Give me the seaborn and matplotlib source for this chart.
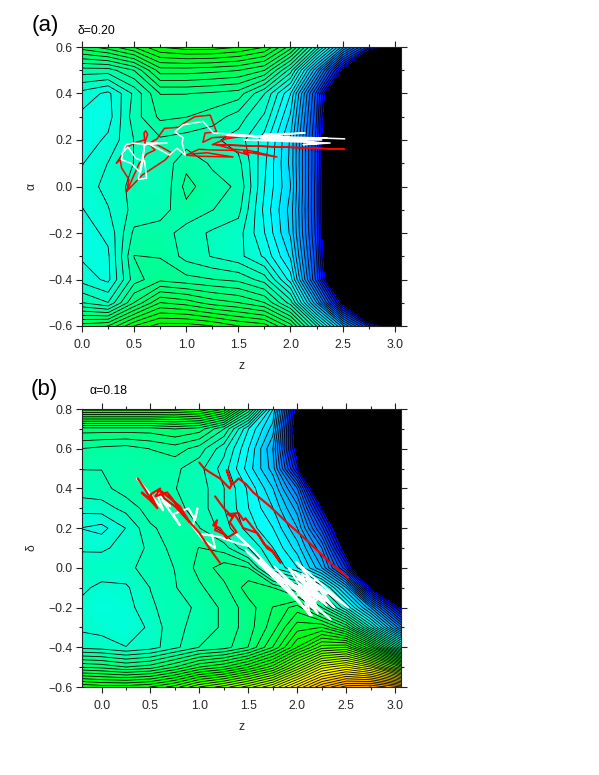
import numpy as np
import matplotlib
matplotlib.use("Agg")
import matplotlib.pyplot as plt
import seaborn as sns
from matplotlib.colors import LinearSegmentedColormap
from matplotlib.ticker import MultipleLocator

# grid of the two maps, energies are given in contour steps
z_a = [0, 0.25, 0.5, 0.75, 1, 1.25, 1.5, 1.75, 2, 2.25, 2.5, 2.75, 3.06]
alpha_a = [0.6, 0.5, 0.4, 0.3, 0.2, 0.1, 0, -0.1, -0.2, -0.3, -0.4, -0.5, -0.6]
energy_a = [
    [-12.5, -13.5, -15, -17, -17.5, -17.5, -17, -16, -12.5, -6, 1.5, 8.5, 15],
    [-7.5, -7.5, -9, -12.5, -12.5, -12.3, -12, -11, -6.5, 2, 12, 28, 45],
    [-4.6, -3.7, -6.2, -9, -9, -8.8, -8.5, -6, -2, 7.5, 20, 45, 60],
    [-3.7, -3.5, -6.5, -8.2, -8, -7.5, -6.5, -4.8, -0.8, 8, 23, 50, 70],
    [-3.3, -4.2, -6, -6.8, -6.5, -6.2, -5.5, -3.5, 0.2, 8.5, 23, 50, 70],
    [-3.9, -5, -6, -6.2, -7.7, -6.8, -6.3, -3.2, 0.3, 8.5, 23, 50, 70],
    [-4.4, -5.3, -6.3, -6, -8.3, -7.4, -6.8, -3, 0, 8.7, 23, 50, 70],
    [-3.9, -4.9, -6.3, -6.5, -7.7, -7, -6.3, -2.7, 0.4, 8.7, 23, 50, 70],
    [-3.5, -4.2, -7.2, -7.5, -6.5, -5.8, -5.4, -3, 0.2, 8.5, 23, 50, 70],
    [-3.8, -3.8, -8, -7.9, -6.6, -5.9, -5.3, -3.8, -0.8, 8, 23, 50, 70],
    [-4.6, -3.7, -7.5, -8.7, -8.3, -8, -7.7, -6.5, -2.5, 7.5, 20, 45, 60],
    [-7, -6, -10, -13, -12.5, -11.5, -11, -10, -6.5, 2, 12.5, 28, 45],
    [-12.5, -13, -16, -17.5, -17.5, -17, -16, -15.5, -12.5, -6, 1.5, 8.5, 15],
]

z_b = [-0.25, 0, 0.25, 0.5, 0.75, 1, 1.25, 1.5, 1.75, 2, 2.25, 2.5, 2.75, 3.06]
delta_b = [0.8, 0.7, 0.6, 0.5, 0.4, 0.3, 0.2, 0.1, 0, -0.1, -0.2, -0.3, -0.4, -0.5, -0.6]
energy_b = [
    [-19.5, -19.5, -19.5, -19.5, -19.5, -19, -17, -10, -1, 13, 30, 45, 55, 70],
    [-10.5, -10.5, -10.5, -10.5, -11, -10.5, -8, -3, 0.5, 14, 35, 50, 60, 70],
    [-8, -7.7, -7.5, -8, -8.5, -7.5, -5.3, -2, 2, 13, 30, 45, 60, 70],
    [-7, -7, -7.2, -7.2, -7.2, -6.3, -4.5, -1.5, 1.5, 10.5, 28, 45, 60, 70],
    [-6.5, -6.6, -7.5, -7.2, -7, -6.5, -5, -2.8, 0, 5, 17, 35, 50, 65],
    [-5.3, -5.5, -6.3, -7.5, -7.3, -6.5, -5, -3, -1, 2.5, 11.5, 26, 45, 60],
    [-4, -3.6, -5, -6.8, -7.5, -7, -5.5, -3.5, -2, 1, 7.5, 17, 35, 50],
    [-4.8, -4.8, -5.3, -6.2, -7.4, -8, -7.5, -5, -3, -0.5, 4, 13.5, 25, 40],
    [-5.7, -5.6, -5.7, -6.4, -7, -8.3, -9.5, -9, -4, -2, 2, 9, 21, 35],
    [-5.3, -4.7, -4.8, -6, -6.9, -7.8, -8.7, -10.5, -10, -8, -5, 1, 12, 22],
    [-4.8, -4, -4.5, -5.8, -6.5, -7.2, -8.2, -9.5, -11, -12.5, -9, -4, 2, 12],
    [-4.8, -4.6, -4.2, -5.2, -6.8, -7.2, -8.2, -9.5, -11.5, -14.5, -15, -12, -5, 4],
    [-5.7, -5.5, -5, -5.5, -6.7, -8, -8.5, -10, -13, -17, -20.5, -21, -16, -7],
    [-11, -10.7, -10, -10.5, -12, -14, -15, -17, -19.5, -24, -28.5, -30, -28, -22],
    [-18, -17.5, -17.5, -18, -19.5, -22, -23.5, -25.5, -28, -32, -36, -38.5, -39, -37],
]

# trajectories
red_a_z = [0.43, 0.45, 0.38, 0.365, 0.33, 0.43, 0.52, 0.60, 0.595, 0.61, 0.63, 0.60, 0.66, 0.70, 0.62, 0.55, 0.50, 0.43, 0.58,
           0.80, 0.86, 0.70, 0.66, 0.72, 0.79, 0.93, 0.97, 1.08, 1.23, 1.29, 1.18, 1.16, 1.25, 1.61, 1.38, 1.25, 1.9, 2.52,
           1.6, 1.29, 1.45, 1.6, 1.7, 1.65, 1.87, 1.55, 1.6, 1.45, 1.26, 1.12, 1.0, 1.13, 1.45, 1.2, 1.05]
red_a_alpha = [-0.02, 0.03, 0.08, 0.115, 0.10, 0.17, 0.19, 0.20, 0.23, 0.24, 0.225, 0.185, 0.175, 0.157, 0.14, 0.10, 0.05, -0.02, 0.05,
               0.115, 0.145, 0.185, 0.19, 0.205, 0.25, 0.255, 0.27, 0.30, 0.307, 0.235, 0.23, 0.19, 0.21, 0.22, 0.205, 0.18, 0.17, 0.16,
               0.175, 0.18, 0.16, 0.155, 0.145, 0.15, 0.127, 0.15, 0.135, 0.155, 0.157, 0.16, 0.135, 0.13, 0.127, 0.145, 0.14]
white_a_z = [2.52, 2.2, 1.55, 2.38, 2.12, 2.31, 1.62, 2.14, 1.75, 2.0, 1.39, 2.35, 1.7, 2.3, 1.26, 1.16, 0.97, 0.89, 0.97,
             0.96, 0.99, 0.91, 0.84, 0.72, 0.62, 0.815, 0.62, 0.49, 0.42, 0.39, 0.38, 0.47, 0.56, 0.585, 0.60, 0.57, 0.54, 0.62,
             0.6, 0.52, 0.44, 0.38]
white_a_alpha = [0.205, 0.21, 0.2, 0.187, 0.18, 0.187, 0.215, 0.23, 0.225, 0.21, 0.22, 0.208, 0.2, 0.2, 0.23, 0.28, 0.265, 0.235, 0.21,
                 0.187, 0.135, 0.165, 0.135, 0.165, 0.187, 0.187, 0.18, 0.187, 0.18, 0.144, 0.115, 0.10, 0.06, 0.115, 0.18, 0.1, 0.03, 0.036,
                 0.11, 0.12, 0.17, 0.14]

red_b_z = [1.0, 1.05, 1.11, 1.21, 1.31, 1.33, 1.28, 1.33, 1.36, 1.40, 1.48, 1.55, 1.72, 1.90, 2.05, 2.2, 2.35, 2.52]
red_b_delta = [0.53, 0.50, 0.48, 0.45, 0.40, 0.42, 0.49, 0.42, 0.43, 0.45, 0.42, 0.38, 0.31, 0.226, 0.16, 0.09, 0.02, -0.05]
red_b2_z = [1.16, 1.25, 1.34, 1.29, 1.40, 1.45, 1.47, 1.55, 1.62, 1.69, 1.75, 1.83, 1.74, 1.66, 1.59, 1.45, 1.36, 1.31, 1.38, 1.28, 1.21,
            1.14, 1.18, 1.16, 1.25, 1.28]
red_b2_delta = [0.36, 0.30, 0.256, 0.27, 0.276, 0.24, 0.25, 0.2, 0.155, 0.10, 0.08, 0.025, 0.09, 0.12, 0.176, 0.2, 0.27, 0.23, 0.18, 0.15, 0.2,
                0.215, 0.24, 0.19, 0.17, 0.15]
red_b3_z = [0.37, 0.45, 0.52, 0.41, 0.5, 0.57, 0.5, 0.6, 0.55, 0.67, 0.72, 0.8, 0.9, 0.8, 0.7, 0.6, 0.64, 0.75, 0.92, 1.0, 1.1, 1.21]
red_b3_delta = [0.45, 0.39, 0.33, 0.38, 0.34, 0.30, 0.37, 0.40, 0.36, 0.38, 0.35, 0.29, 0.23, 0.31, 0.35, 0.39, 0.35, 0.31, 0.22, 0.175, 0.1, 0.025]
white_b_z = [0.36, 0.5, 0.63, 0.56, 0.70, 0.62, 0.80, 0.73, 0.89, 0.955, 0.98, 0.93, 1.04, 1.16, 1.13, 1.03, 1.21, 1.38, 1.50, 1.365,
             1.55, 1.86, 1.47, 2.15, 1.62, 2.34, 1.77, 2.21, 1.91, 2.38, 1.99, 2.52, 2.05, 2.13, 1.85, 2.25, 2.0, 2.3,
             2.02, 2.2, 2.1, 2.16, 2.0, 2.25, 2.05, 2.18, 2.08, 2.22, 1.95, 2.28, 2.03, 2.1, 2.2, 2.0, 2.15, 2.08, 2.3, 1.97, 2.12]
white_b_delta = [0.45, 0.37, 0.29, 0.38, 0.31, 0.34, 0.215, 0.27, 0.30, 0.24, 0.30, 0.21, 0.14, 0.10, 0.165, 0.17, 0.155, 0.125, 0.11, 0.175,
                 0.09, -0.076, 0.09, -0.24, 0.04, -0.26, 0.005, -0.23, 0.0, -0.2, 0.03, -0.2, -0.03, -0.24, -0.06, -0.16, -0.05, -0.19,
                 -0.08, -0.2, -0.05, -0.2, -0.12, -0.1, -0.15, -0.06, -0.18, -0.14, -0.08, -0.17, -0.1, -0.12, -0.09, -0.14, -0.06, -0.2, -0.13, -0.02, -0.11]

FONT = "Liberation Sans"
TOP_LEVEL = 12

sns.set_theme(style="ticks")
plt.rcParams["font.family"] = [FONT, "DejaVu Sans"]

# orange - yellow - green - cyan - blue, black above the last level
vmin, vmax = -45, TOP_LEVEL
stops = [(-45, "#ff9800"), (-37, "#ffa500"), (-30, "#ffff00"), (-17, "#00ff00"), (-2, "#00ffff"), (TOP_LEVEL, "#0000ff")]
cmap = LinearSegmentedColormap.from_list("pes", [((v - vmin) / (vmax - vmin), c) for v, c in stops])
cmap.set_over("black")


def draw_map(ax, z, y, energy, ylims, xlims, ystep, ylabel):
    ax.contourf(z, y, np.array(energy), levels=np.arange(vmin, vmax + 0.01, 0.2), cmap=cmap, extend="max")
    ax.contour(z, y, np.array(energy), levels=np.arange(vmin + 0.03, vmax + 0.01, 1), colors="black", linewidths=0.6, linestyles="solid")
    ax.set_xlim(*xlims)
    ax.set_ylim(*ylims)
    ax.xaxis.set_major_locator(MultipleLocator(0.5))
    ax.xaxis.set_minor_locator(MultipleLocator(0.25))
    ax.yaxis.set_major_locator(MultipleLocator(ystep))
    ax.yaxis.set_minor_locator(MultipleLocator(ystep / 2))
    ax.tick_params(which="major", direction="out", length=4.1, width=0.8, top=True, right=True, labelsize=8.8, color="#222222")
    ax.tick_params(which="minor", direction="out", length=2.2, width=0.8, top=True, right=True, color="#222222")
    ax.tick_params(axis="x", which="major", pad=5)
    ax.tick_params(axis="y", which="major", pad=2.5)
    ax.set_xlabel("z", fontsize=8.8, labelpad=7)
    ax.set_ylabel(ylabel, fontsize=8.8, labelpad=8)
    for spine in ax.spines.values():
        spine.set_linewidth(0.8)
        spine.set_color("#222222")


def traj(ax, xs, ys, color, lw):
    sns.lineplot(x=xs, y=ys, sort=False, estimator=None, color=color, linewidth=lw, ax=ax, legend=False)


W, H = 599, 775
fig = plt.figure(figsize=(W / 100, H / 100), dpi=100)
ax_a = fig.add_axes([82 / W, 1 - 326 / H, 319 / W, 279 / H])
ax_b = fig.add_axes([82 / W, 1 - 687 / H, 319 / W, 278 / H])

draw_map(ax_a, z_a, alpha_a, energy_a, (-0.6, 0.6), (0, 3.06), 0.2, "α")
traj(ax_a, red_a_z, red_a_alpha, "#ff0000", 1.1)
traj(ax_a, white_a_z, white_a_alpha, "white", 1.1)

draw_map(ax_b, z_b, delta_b, energy_b, (-0.6, 0.8), (-0.2, 3.06), 0.2, "δ")
traj(ax_b, white_b_z, white_b_delta, "white", 1.5)
traj(ax_b, red_b_z, red_b_delta, "#ff0000", 1.5)
traj(ax_b, red_b2_z, red_b2_delta, "#ff0000", 1.5)
traj(ax_b, red_b3_z, red_b3_delta, "#ff0000", 1.5)

fig.text(32 / W, 1 - 31 / H, "(a)", fontsize=16, color="black")
fig.text(78 / W, 1 - 34 / H, "δ=0.20", fontsize=8.8, color="black")
fig.text(31 / W, 1 - 395 / H, "(b)", fontsize=16, color="black")
fig.text(90 / W, 1 - 394 / H, "α=0.18", fontsize=8.8, color="black")

fig.savefig("out.png", dpi=100)
